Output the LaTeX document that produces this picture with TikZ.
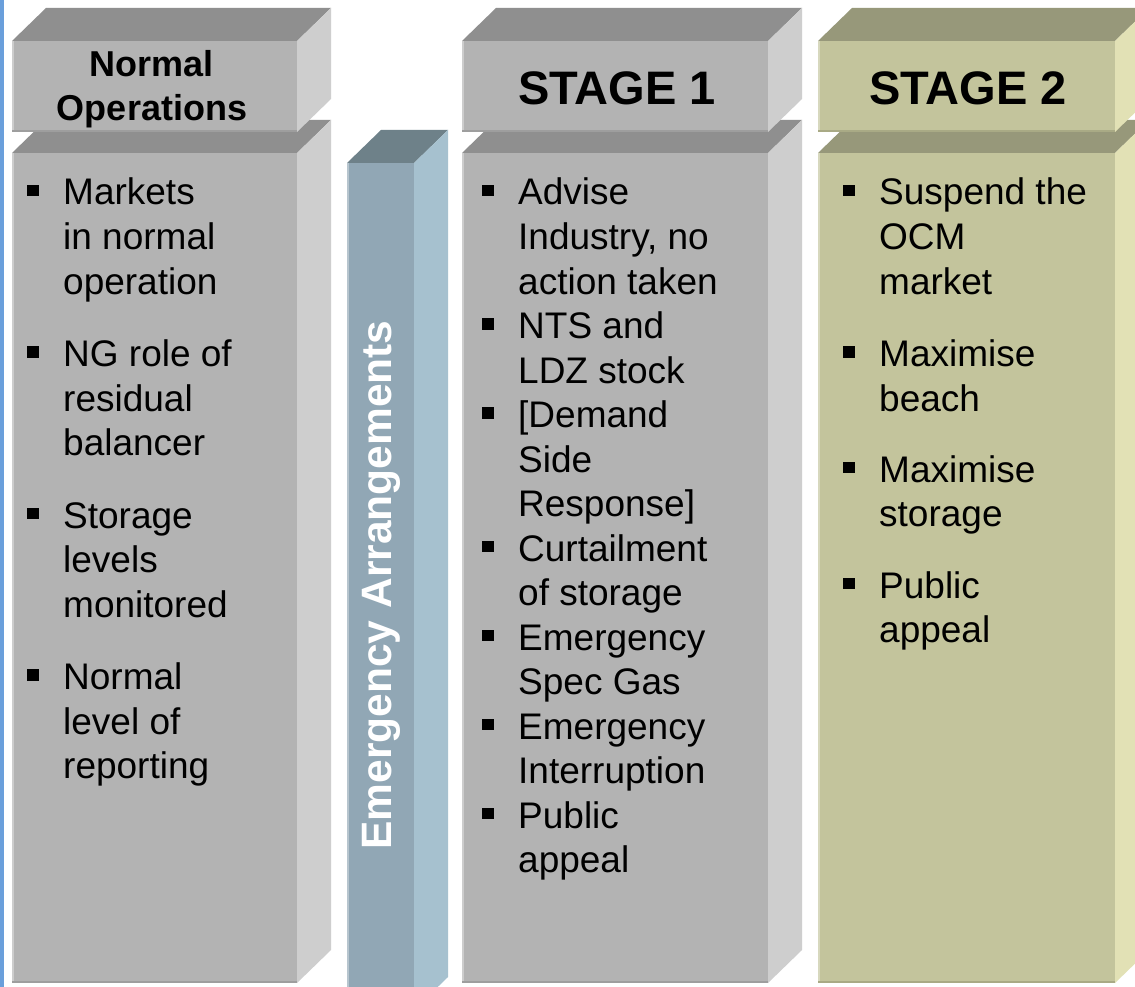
\documentclass[tikz,border=0pt]{standalone}
\usepackage{fontspec}
\setmainfont{Liberation Sans}
\usepackage{xcolor}

\definecolor{greyfront}{HTML}{B3B3B3}
\definecolor{greytop}{HTML}{8F8F8F}
\definecolor{greyside}{HTML}{CECECE}
\definecolor{greyedge}{HTML}{9E9E9E}
\definecolor{bluefront}{HTML}{91A7B5}
\definecolor{bluetop}{HTML}{6E8189}
\definecolor{blueside}{HTML}{A6C1CF}
\definecolor{blueedge}{HTML}{7E95A3}
\definecolor{olivefront}{HTML}{C3C49C}
\definecolor{olivetop}{HTML}{97987A}
\definecolor{oliveside}{HTML}{E2E1B5}
\definecolor{oliveedge}{HTML}{A9AA85}
\definecolor{leftbar}{HTML}{6A9FDB}

% block with front, top and side face: x1,y1,x2,y2,front,top,side,edge
\newcommand{\slab}[8]{%
  \fill[#6] (#1,#2) -- ++(34,-33) -- (#3+34,#2-33) -- (#3,#2) -- cycle;
  \fill[#7] (#3,#2) -- (#3+34,#2-33) -- (#3+34,#4-33) -- (#3,#4) -- cycle;
  \fill[#5] (#1,#2) rectangle (#3,#4);
  \draw[white, opacity=0.35, line width=2] (#1+1,#2) -- (#1+1,#4);
  \draw[#8, line width=2] (#1,#4-1) -- (#3,#4-1);
}
% bullet point: name, x, first baseline, lines, text
\newcommand{\bitem}[5]{%
  \node[bsq] (#1-sq) at (#2-30,#3-14.5) {};
  \node[btxt] (#1) at (#2,#3+#4*44.5-44.5) {#5};
}

\begin{document}
\begin{tikzpicture}[x=1pt,y=-1pt,
    bsq/.style={rectangle,fill=black,minimum size=11.5,inner sep=0},
    btxt/.style={anchor=base west,align=left,inner sep=0,font=\fontsize{37}{44.5}\selectfont},
    hdr/.style={anchor=base,align=center,inner sep=0}]
  \clip (0,0) rectangle (1135,987);
  \fill[white] (0,0) rectangle (1135,987);
  \fill[leftbar] (0,0) rectangle (4,987);

  % normal operations
  \slab{12}{153}{297}{983}{greyfront}{greytop}{greyside}{greyedge}
  \slab{12}{41}{297}{132}{greyfront}{greytop}{greyside}{greyedge}
  % emergency arrangements
  \slab{347}{163}{414}{1010}{bluefront}{bluetop}{blueside}{blueedge}
  % stage 1
  \slab{462}{153}{768}{983}{greyfront}{greytop}{greyside}{greyedge}
  \slab{462}{41}{768}{132}{greyfront}{greytop}{greyside}{greyedge}
  % stage 2
  \slab{818}{153}{1115}{983}{olivefront}{olivetop}{oliveside}{oliveedge}
  \slab{818}{41}{1115}{132}{olivefront}{olivetop}{oliveside}{oliveedge}

  \node[hdr, font=\fontsize{36}{44}\selectfont\bfseries] (normal) at (152,121) {Normal\\Operations};
  \node[hdr, font=\fontsize{47}{50}\selectfont\bfseries] (stage1) at (617,105) {STAGE 1};
  \node[hdr, font=\fontsize{47}{50}\selectfont\bfseries] (stage2) at (968,105) {STAGE 2};
  \node[rotate=90, text=white, font=\fontsize{42.5}{46}\selectfont\bfseries] (emerg) at (381,585) {Emergency Arrangements};

  \bitem{m1}{63}{205}{3}{Markets\\in normal\\operation}
  \bitem{m2}{63}{366.5}{3}{NG role of\\residual\\balancer}
  \bitem{m3}{63}{528}{3}{Storage\\levels\\monitored}
  \bitem{m4}{63}{689.5}{3}{Normal\\level of\\reporting}

  \bitem{sa}{518}{205}{3}{Advise\\Industry, no\\action taken}
  \bitem{sb}{518}{338.5}{2}{NTS and\\LDZ stock}
  \bitem{sc}{518}{427.5}{3}{[Demand\\Side\\Response]}
  \bitem{sd}{518}{561}{2}{Curtailment\\of storage}
  \bitem{se}{518}{650}{2}{Emergency\\Spec Gas}
  \bitem{sf}{518}{739}{2}{Emergency\\Interruption}
  \bitem{sg}{518}{828}{2}{Public\\appeal}

  \bitem{ta}{879}{205}{3}{Suspend the\\OCM\\market}
  \bitem{tb}{879}{366.5}{2}{Maximise\\beach}
  \bitem{tc}{879}{482}{2}{Maximise\\storage}
  \bitem{td}{879}{598}{2}{Public\\appeal}
\end{tikzpicture}
\end{document}
